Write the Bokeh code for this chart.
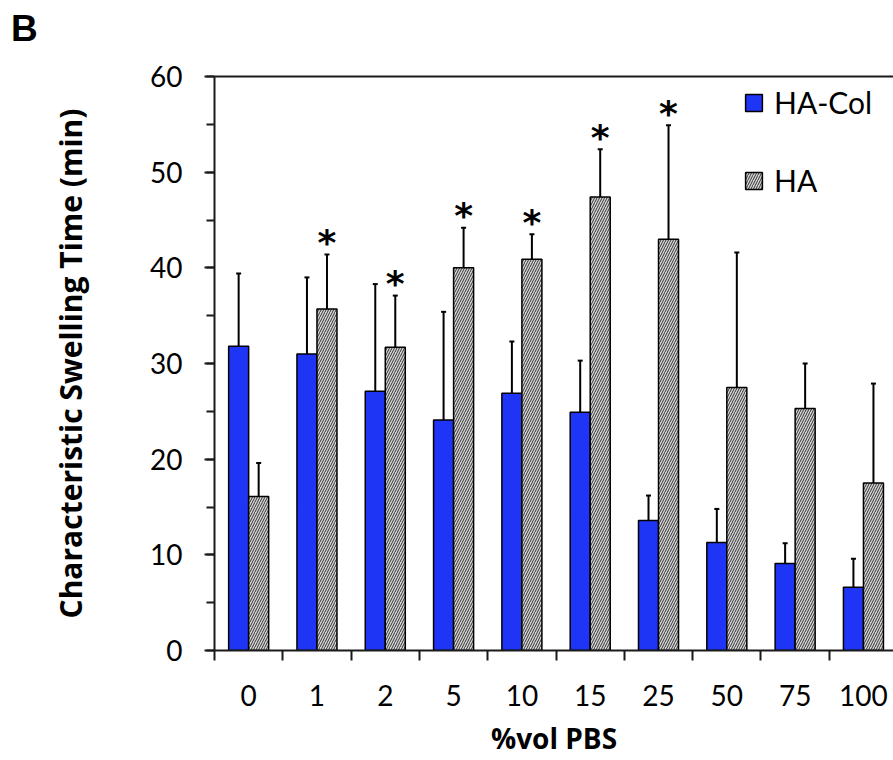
from bokeh.plotting import figure
from bokeh.layouts import column
from bokeh.models import (Range1d, FixedTicker, SingleIntervalTicker, LinearAxis, Legend,
                          LegendItem, Whisker, TeeHead, ColumnDataSource, Div)
from bokeh.core.properties import value
from bokeh.embed import file_html
from bokeh.resources import INLINE

# ---- data ----
categories = ["0", "1", "2", "5", "10", "15", "25", "50", "75", "100"]
hacol = [31.8, 31.0, 27.1, 24.1, 26.9, 24.9, 13.6, 11.3, 9.1, 6.6]
hacol_err = [7.6, 8.0, 11.2, 11.3, 5.4, 5.4, 2.6, 3.5, 2.1, 3.0]
ha = [16.1, 35.7, 31.7, 40.0, 40.9, 47.4, 43.0, 27.5, 25.3, 17.5]
ha_err = [3.5, 5.7, 5.4, 4.2, 2.6, 5.0, 11.9, 14.1, 4.7, 10.4]
significant = [False, True, True, True, True, True, True, False, False, False]

BAR_W = 0.293
n = len(categories)
centers = [i + 0.5 for i in range(n)]
bounds = [float(i) for i in range(n + 1)]

x_col = [c - BAR_W / 2 for c in centers]
x_ha = [c + BAR_W / 2 for c in centers]

src_col = ColumnDataSource(dict(x=x_col, top=hacol,
                                upper=[v + e for v, e in zip(hacol, hacol_err)],
                                lower=[v - e for v, e in zip(hacol, hacol_err)]))
src_ha = ColumnDataSource(dict(x=x_ha, top=ha,
                               upper=[v + e for v, e in zip(ha, ha_err)],
                               lower=[v - e for v, e in zip(ha, ha_err)]))
star_x = [x for x, s in zip(x_ha, significant) if s]
star_y = [v + e for v, e, s in zip(ha, ha_err, significant) if s]
src_star = ColumnDataSource(dict(x=star_x, y=star_y, t=["*"] * len(star_x)))

# panel letter
DIV_TOP = 10
DIV_H = 37
letter = Div(text="B", width=893 - 11, height=DIV_H, margin=(DIV_TOP, 0, 0, 11),
             styles={"font-family": "'Liberation Sans', Arial, sans-serif",
                     "font-weight": "bold", "font-size": "37px",
                     "line-height": "1", "color": "black"})

p = figure(width=893, height=760 - DIV_TOP - DIV_H,
           x_range=Range1d(0, 9.94), y_range=Range1d(0, 60),
           output_backend="svg", toolbar_location=None,
           x_axis_type=None, y_axis_type=None,
           min_border_left=214, min_border_top=76 - DIV_TOP - DIV_H,
           min_border_right=0, min_border_bottom=110, margin=(0, 0, 0, 0))
p.xgrid.visible = False
p.ygrid.visible = False
p.outline_line_color = None
p.background_fill_color = "white"

AX_COLOR = "#1a1a1a"

# y axis
yaxis = LinearAxis(ticker=SingleIntervalTicker(interval=10, num_minor_ticks=2),
                   axis_label="Characteristic Swelling Time (min)",
                   axis_label_text_font="Open Sans", axis_label_text_font_style="bold",
                   axis_label_text_font_size="30px", axis_label_standoff=56,
                   axis_label_text_color="black",
                   major_label_text_font="Lato", major_label_text_font_size="28px",
                   major_label_text_color="black", major_label_standoff=22,
                   axis_line_color=AX_COLOR, axis_line_width=2,
                   major_tick_line_color=AX_COLOR, major_tick_line_width=2,
                   major_tick_in=0, major_tick_out=10,
                   minor_tick_line_color=AX_COLOR, minor_tick_line_width=2,
                   minor_tick_in=0, minor_tick_out=8)
p.add_layout(yaxis, "left")

# x axis: labels at group centers, ticks at group boundaries
xaxis = LinearAxis(ticker=FixedTicker(ticks=centers, minor_ticks=bounds),
                   major_label_overrides={c: lab for c, lab in zip(centers, categories)},
                   axis_label="%vol PBS",
                   axis_label_text_font="Open Sans", axis_label_text_font_style="bold",
                   axis_label_text_font_size="28px", axis_label_standoff=10,
                   axis_label_text_color="black",
                   major_label_text_font="Lato", major_label_text_font_size="28px",
                   major_label_text_color="black", major_label_standoff=24,
                   axis_line_color=AX_COLOR, axis_line_width=2,
                   major_tick_line_color=None, major_tick_in=0, major_tick_out=10,
                   minor_tick_line_color=AX_COLOR, minor_tick_line_width=2,
                   minor_tick_in=0, minor_tick_out=10)
p.add_layout(xaxis, "below")

# top border line
top_axis = LinearAxis(ticker=FixedTicker(ticks=[]), major_label_text_font_size="0px",
                      axis_line_color=AX_COLOR, axis_line_width=2,
                      major_tick_line_color=None, minor_tick_line_color=None)
p.add_layout(top_axis, "above")

# bars
r_col = p.vbar(x="x", top="top", bottom=0, width=BAR_W, source=src_col,
               fill_color="#1f35f5", line_color="black", line_width=1.5)
r_ha = p.vbar(x="x", top="top", bottom=0, width=BAR_W, source=src_ha,
              fill_color="#d4d4d4", line_color="black", line_width=1.5,
              hatch_pattern="/", hatch_color="#333333", hatch_scale=5, hatch_weight=1)

# error bars
for s in (src_col, src_ha):
    p.add_layout(Whisker(source=s, base="x", upper="upper", lower="lower",
                         line_color="black", line_width=2,
                         upper_head=TeeHead(size=5, line_width=2, line_color="black"),
                         lower_head=TeeHead(size=5, line_width=2, line_color="black")))

# significance stars
p.text(x="x", y="y", text="t", source=src_star, text_font=value("DejaVu Sans"),
       text_font_style="bold", text_font_size="36px", text_align="center",
       text_baseline="alphabetic", y_offset=-12, text_color="black")

# legend (location = bottom-left corner, px from frame bottom-left)
legend = Legend(items=[LegendItem(label="HA-Col", renderers=[r_col]),
                       LegendItem(label="HA", renderers=[r_ha])],
                location=(529, 452), glyph_width=21, glyph_height=21,
                label_text_font="Lato", label_text_font_size="30px",
                label_text_color="black", label_standoff=10,
                spacing=42, padding=0, margin=0,
                border_line_color=None, background_fill_alpha=0)
p.add_layout(legend, "center")

layout = column(letter, p, spacing=0, margin=(0, 0, 0, 0))
open("out.html", "w").write(file_html(layout, INLINE))
